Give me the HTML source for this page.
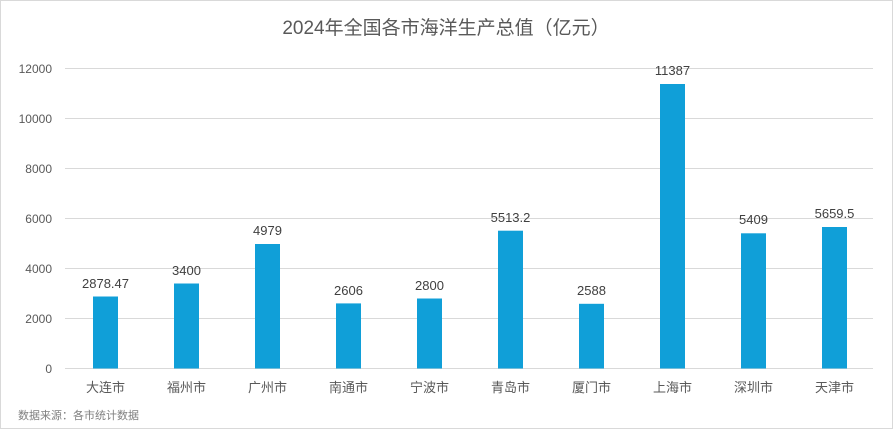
<!DOCTYPE html>
<html><head><meta charset="utf-8"><style>
body{margin:0;background:#fff;}
svg{display:block;font-family:"Liberation Sans","Noto Sans CJK SC",sans-serif;}
</style></head><body>
<svg width="893" height="429" viewBox="0 0 893 429">
<rect x="0.5" y="0.5" width="892" height="428" fill="#fff" stroke="#d9d9d9"/>
<text x="446" y="34" text-anchor="middle" font-size="19" fill="#595959">2024年全国各市海洋生产总值（亿元）</text>
<g stroke="#d9d9d9" stroke-width="1">
<line x1="65" x2="873" y1="68.5" y2="68.5"/>
<line x1="65" x2="873" y1="118.5" y2="118.5"/>
<line x1="65" x2="873" y1="168.5" y2="168.5"/>
<line x1="65" x2="873" y1="218.5" y2="218.5"/>
<line x1="65" x2="873" y1="268.5" y2="268.5"/>
<line x1="65" x2="873" y1="318.5" y2="318.5"/>
<line x1="65" x2="873" y1="368.5" y2="368.5"/>
</g>
<g font-size="12" fill="#595959" text-anchor="end">
<text x="52" y="73">12000</text>
<text x="52" y="123">10000</text>
<text x="52" y="173">8000</text>
<text x="52" y="223">6000</text>
<text x="52" y="273">4000</text>
<text x="52" y="323">2000</text>
<text x="52" y="373">0</text>
</g>
<g fill="#109fd8">
<rect x="93" y="296.5" width="25" height="72"/>
<rect x="174" y="283.5" width="25" height="85"/>
<rect x="255" y="244" width="25" height="124.5"/>
<rect x="336" y="303.4" width="25" height="65.1"/>
<rect x="417" y="298.5" width="25" height="70"/>
<rect x="498" y="230.7" width="25" height="137.8"/>
<rect x="579" y="303.8" width="25" height="64.7"/>
<rect x="660" y="84" width="25" height="284.5"/>
<rect x="741" y="233.3" width="25" height="135.2"/>
<rect x="822" y="227" width="25" height="141.5"/>
</g>
<g font-size="13" fill="#404040" text-anchor="middle">
<text x="105.5" y="288">2878.47</text>
<text x="186.5" y="275">3400</text>
<text x="267.5" y="235">4979</text>
<text x="348.5" y="295">2606</text>
<text x="429.5" y="290">2800</text>
<text x="510.5" y="222">5513.2</text>
<text x="591.5" y="295">2588</text>
<text x="672.5" y="75">11387</text>
<text x="753.5" y="224">5409</text>
<text x="834.5" y="218">5659.5</text>
</g>
<g font-size="13" fill="#595959" text-anchor="middle">
<text x="105.5" y="392">大连市</text>
<text x="186.5" y="392">福州市</text>
<text x="267.5" y="392">广州市</text>
<text x="348.5" y="392">南通市</text>
<text x="429.5" y="392">宁波市</text>
<text x="510.5" y="392">青岛市</text>
<text x="591.5" y="392">厦门市</text>
<text x="672.5" y="392">上海市</text>
<text x="753.5" y="392">深圳市</text>
<text x="834.5" y="392">天津市</text>
</g>
<text x="18" y="419" font-size="11" fill="#7f7f7f">数据来源：各市统计数据</text>
</svg>
</body></html>
